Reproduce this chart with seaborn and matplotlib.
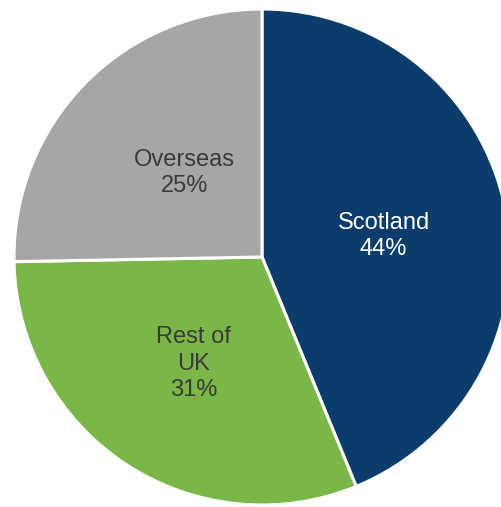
import matplotlib
matplotlib.use("Agg")
import matplotlib.pyplot as plt
import seaborn as sns

categories = ["Scotland", "Rest of\nUK", "Overseas"]
shares = [43.8, 30.9, 25.3]
colors = ["#0b3c6b", "#7ab648", "#a6a6a6"]
text_colors = ["white", "#3a3a3a", "#3a3a3a"]

sns.set_theme(style="white")
plt.rcParams["font.family"] = ["Liberation Sans", "DejaVu Sans"]

fig = plt.figure(figsize=(5.01, 5.07), dpi=100)
ax = fig.add_axes([0, 0, 1, 1])

labels = [f"{c}\n{round(v)}%" for c, v in zip(categories, shares)]
wedges, texts = ax.pie(
    shares,
    labels=labels,
    colors=colors,
    startangle=90,
    counterclock=False,
    center=(262, 507 - 257),
    radius=248,
    labeldistance=0.5,
    wedgeprops=dict(edgecolor="white", linewidth=2.2),
    textprops=dict(fontsize=17, ha="center", va="center", linespacing=1.25),
    frame=True,
)
ax.set_xlim(0, 501)
ax.set_ylim(0, 507)
ax.set_aspect("equal")
ax.axis("off")
label_nudge = [(0, -3), (0, -3), (11, -3)]
for t, c, (dx, dy) in zip(texts, text_colors, label_nudge):
    t.set_color(c)
    x, y = t.get_position()
    t.set_position((x + dx, y + dy))

fig.savefig("out.png", dpi=100)
